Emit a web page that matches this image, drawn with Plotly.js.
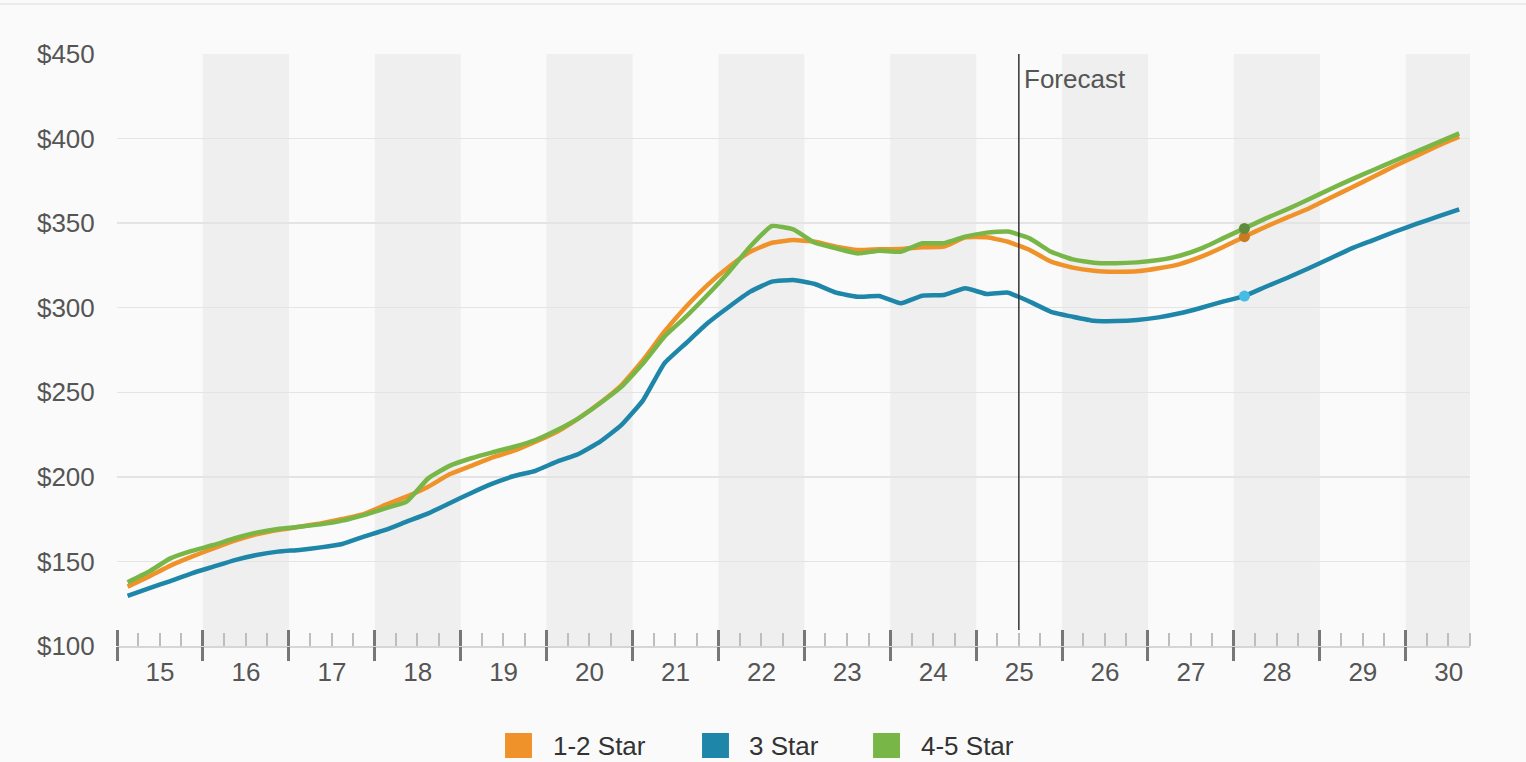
<!DOCTYPE html>
<html>
<head>
<meta charset="utf-8">
<script src="https://cdn.plot.ly/plotly-3.0.1.min.js"></script>
<style>
  html, body { margin: 0; padding: 0; background: #fafafa; }
  #chart { width: 1526px; height: 762px; }
</style>
</head>
<body>
<div id="chart"></div>
<script>
// ---- Data (quarterly, 2015 Q1 .. 2030 Q3) ----
const startYear = 2015;
const quarterCount = 63;
const yearLabels = ['15','16','17','18','19','20','21','22','23','24','25','26','27','28','29','30'];
const shadedYears = [2016, 2018, 2020, 2022, 2024, 2026, 2028, 2030];
const forecastStart = '2025-07-01';
const highlightIndex = 52; // 2028 Q1

const seriesNames = ['1-2 Star', '3 Star', '4-5 Star'];

const star12 = [
  135.1, 141.0, 147.5, 152.8, 157.7, 162.3, 166.0, 168.6,
  170.5, 172.5, 175.1, 178.0, 183.4, 188.3, 194.2, 201.5,
  206.5, 211.5, 215.5, 220.8, 226.7, 234.6, 243.8, 254.3,
  269.1, 285.8, 300.6, 313.4, 324.2, 333.1, 338.4, 340.0,
  339.0, 336.1, 334.1, 334.5, 334.7, 335.7, 336.1, 341.6,
  341.6, 339.0, 334.1, 327.2, 323.7, 321.9, 321.3, 321.5,
  323.3, 325.8, 330.2, 335.7, 342.0, 347.9, 353.4, 358.7,
  365.0, 371.1, 377.4, 383.8, 389.7, 395.6, 401.1
];

const star3 = [
  129.7, 134.1, 138.4, 143.0, 146.9, 150.8, 153.8, 155.8,
  156.8, 158.3, 160.3, 164.6, 168.6, 173.5, 178.4, 184.4,
  190.5, 196.0, 200.5, 203.6, 209.0, 213.5, 220.8, 230.7,
  245.4, 267.1, 279.0, 290.8, 300.6, 309.5, 315.4, 316.4,
  314.0, 308.9, 306.5, 306.9, 302.6, 307.1, 307.5, 311.5,
  308.1, 308.9, 303.6, 297.6, 294.7, 292.3, 292.1, 292.7,
  294.3, 296.7, 300.0, 303.6, 306.9, 312.4, 317.7, 323.3,
  329.2, 335.1, 340.0, 344.9, 349.5, 353.8, 358.2
];

const star45 = [
  137.7, 143.9, 151.8, 156.2, 159.7, 163.7, 167.0, 169.2,
  170.5, 171.9, 174.1, 177.4, 181.4, 185.3, 199.1, 206.5,
  211.0, 214.5, 217.8, 221.8, 227.7, 234.6, 243.5, 253.3,
  267.1, 282.9, 294.7, 307.5, 321.3, 336.2, 348.3, 346.3,
  338.4, 335.1, 332.1, 333.7, 333.1, 338.1, 338.1, 342.0,
  344.4, 345.0, 341.0, 333.1, 328.6, 326.6, 326.3, 326.8,
  328.2, 330.7, 335.1, 341.0, 346.9, 352.8, 358.3, 364.1,
  370.2, 375.9, 381.4, 386.9, 392.3, 397.6, 403.1
];

// ---- Styling ----
const lineColors = ['#F0922A', '#1E86A8', '#78B747'];
const markerColors = ['#C97A22', '#45BCE6', '#5E8C3C'];
const FONT = 'Liberation Sans, Arial, Helvetica, sans-serif';
const TXT = '#555555';
const FS = 26;

// quarter mid-point dates
const qMid = ['02-15', '05-16', '08-16', '11-15'];
const quarters = [];
for (let i = 0; i < quarterCount; i++) {
  const y = startYear + Math.floor(i / 4);
  quarters.push(y + '-' + qMid[i % 4]);
}

const series = [star12, star3, star45];
const traces = series.map((vals, k) => ({
  type: 'scatter',
  mode: 'lines',
  x: quarters,
  y: vals,
  name: seriesNames[k],
  line: { color: lineColors[k], width: 4.5, shape: 'spline', smoothing: 0.4 },
  showlegend: false,
  hoverinfo: 'x+y+name'
}));

// highlighted current-quarter markers
traces.push({
  type: 'scatter',
  mode: 'markers',
  xaxis: 'x2',
  x: series.map(() => quarters[highlightIndex]),
  y: series.map(v => v[highlightIndex]),
  marker: { color: markerColors, size: 11 },
  showlegend: false,
  hoverinfo: 'skip'
});

const rangeX = [startYear + '-01-01', '2030-10-01'];

const shapes = [];
shadedYears.forEach(y => {
  shapes.push({
    type: 'rect', xref: 'x', yref: 'paper',
    x0: y + '-01-01', x1: (y + 1) + '-01-01', y0: 0, y1: 1,
    fillcolor: '#efefef', line: { width: 0 }, layer: 'below'
  });
});
// forecast line
shapes.push({
  type: 'line', xref: 'x', yref: 'paper',
  x0: forecastStart, x1: forecastStart, y0: 0.027, y1: 1,
  line: { color: '#333333', width: 1.5 }
});
// top border line
shapes.push({
  type: 'line', xref: 'paper', yref: 'paper',
  x0: -0.0865, x1: 1.0414, y0: 1.0845, y1: 1.0845,
  line: { color: '#e6e6e6', width: 1.5 }
});

// legend (swatches + labels)
const legendSwatchX = [[0.2868, 0.3067], [0.4324, 0.4523], [0.5588, 0.5787]];
const legendTextX = [0.3207, 0.4656, 0.5927];
legendSwatchX.forEach((sx, k) => {
  shapes.push({
    type: 'rect', xref: 'paper', yref: 'paper',
    x0: sx[0], x1: sx[1], y0: -0.1892, y1: -0.1470,
    fillcolor: lineColors[k], line: { width: 0 }
  });
});

const annotations = [{
  x: forecastStart, xref: 'x', y: 1, yref: 'paper',
  xanchor: 'left', yanchor: 'top', xshift: 3, yshift: -8,
  text: 'Forecast', showarrow: false,
  font: { family: FONT, size: FS, color: TXT }
}];
legendTextX.forEach((tx, k) => {
  annotations.push({
    x: tx, xref: 'paper', y: -0.1681, yref: 'paper',
    xanchor: 'left', yanchor: 'middle',
    text: seriesNames[k], showarrow: false,
    font: { family: FONT, size: FS, color: '#333333' }
  });
});

const layout = {
  width: 1526, height: 762, autosize: false,
  paper_bgcolor: '#fafafa', plot_bgcolor: '#fafafa',
  margin: { l: 117, r: 56, t: 54, b: 116 },
  font: { family: FONT, size: FS, color: TXT },
  showlegend: false,
  xaxis: {
    type: 'date', range: rangeX,
    tick0: startYear + '-01-01', dtick: 'M12',
    tickformat: '%y', ticklabelmode: 'period',
    ticks: 'inside', ticklen: 16, tickwidth: 3, tickcolor: '#777777',
    ticklabelstandoff: 2,
    showline: true, linecolor: '#d6d6d6', linewidth: 2,
    showgrid: false, zeroline: false,
    tickfont: { family: FONT, size: FS, color: TXT },
    minor: { dtick: 'M3', tick0: startYear + '-01-01', ticks: 'inside', ticklen: 13, tickwidth: 2, tickcolor: '#bdbdbd', showgrid: false },
    fixedrange: true
  },
  xaxis2: {
    type: 'date', range: rangeX, overlaying: 'x', anchor: 'y', side: 'bottom',
    tick0: startYear + '-01-01', dtick: 'M12',
    ticks: 'outside', ticklen: 14, tickwidth: 3, tickcolor: '#777777',
    showticklabels: false, showgrid: false, showline: false, zeroline: false,
    fixedrange: true
  },
  yaxis: {
    range: [100, 450], dtick: 50, tick0: 100,
    tickprefix: '$',
    showgrid: true, gridcolor: '#e4e4e4', gridwidth: 1.5,
    zeroline: false, showline: false,
    ticks: 'outside', ticklen: 16, tickcolor: 'rgba(0,0,0,0)',
    tickfont: { family: FONT, size: FS, color: TXT },
    fixedrange: true
  },
  shapes: shapes,
  annotations: annotations
};

Plotly.newPlot('chart', traces, layout, { displayModeBar: false, staticPlot: true });
</script>
</body>
</html>
